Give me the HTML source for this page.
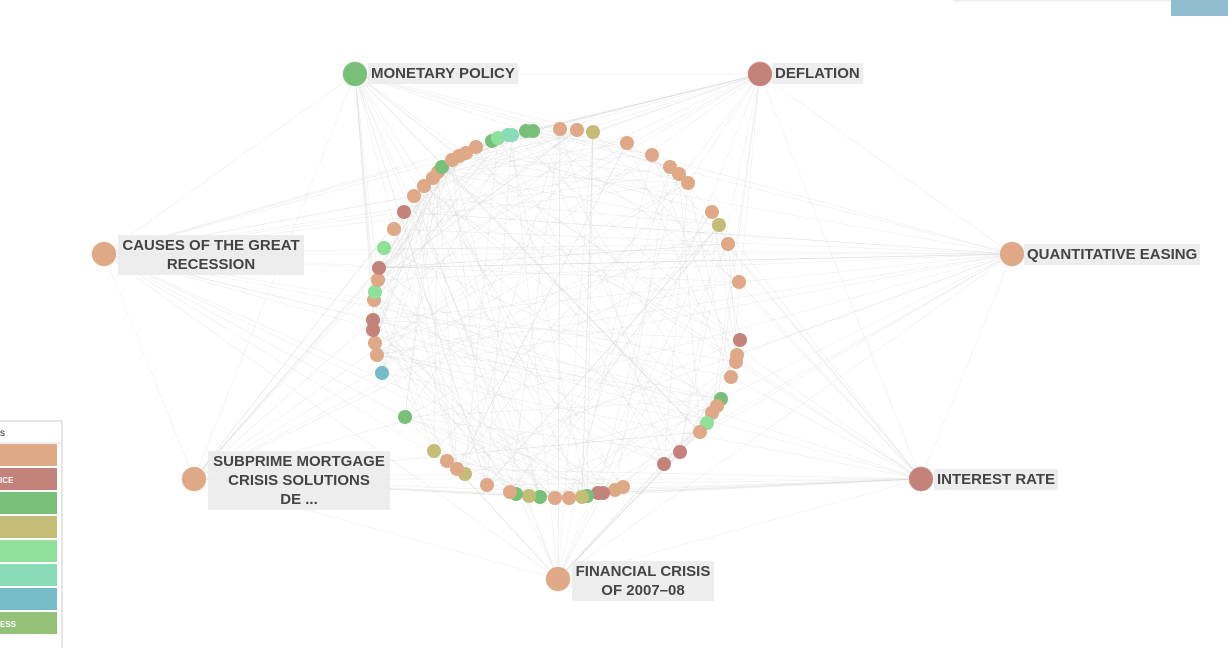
<!DOCTYPE html>
<html><head><meta charset="utf-8"><style>
html,body{margin:0;padding:0;background:#fff;width:1228px;height:648px;overflow:hidden;font-family:"Liberation Sans",sans-serif}
svg{position:absolute;left:0;top:0}
.lbl{position:absolute;background:rgba(235,235,235,0.9);color:#444;font-size:15px;font-weight:bold;line-height:19px;text-align:center;padding:1px 3px;white-space:nowrap}
</style></head><body>
<svg id="s" width="1228" height="648" viewBox="0 0 1228 648">
<rect x="1171" y="0" width="57" height="16" fill="#8fbccf"/>
<rect x="953" y="0" width="218" height="1.5" fill="#eee"/>
<g id="edges" stroke="#d8d8d8" stroke-width="0.6" stroke-opacity="0.45" fill="none"></g>
<g id="nodes"></g>
<rect x="-1" y="421" width="63" height="230" fill="#fff" stroke="#ccc"/>
<line x1="0" y1="443" x2="62" y2="443" stroke="#ddd"/>
<text x="0" y="436" font-size="10" fill="#222" font-family="Liberation Sans">s</text>
<rect x="0" y="444" width="57" height="22" fill="#dfa886"/>
<rect x="0" y="468" width="57" height="22" fill="#c4837a"/>
<text x="0" y="483" font-size="8" font-weight="bold" fill="#fff" font-family="Liberation Sans">ICE</text>
<rect x="0" y="492" width="57" height="22" fill="#78c078"/>
<rect x="0" y="516" width="57" height="22" fill="#c3bd78"/>
<rect x="0" y="540" width="57" height="22" fill="#8ee09a"/>
<rect x="0" y="564" width="57" height="22" fill="#8adbb8"/>
<rect x="0" y="588" width="57" height="22" fill="#76bcc8"/>
<rect x="0" y="612" width="57" height="22" fill="#94c178"/>
<text x="0" y="627" font-size="8" font-weight="bold" fill="#fff" font-family="Liberation Sans">ESS</text>
</svg>
<div class="lbl" style="left:368px;top:63px">MONETARY POLICY</div>
<div class="lbl" style="left:772px;top:63px">DEFLATION</div>
<div class="lbl" style="left:118px;top:235px;width:180px">CAUSES OF THE GREAT<br>RECESSION</div>
<div class="lbl" style="left:1024px;top:244px">QUANTITATIVE EASING</div>
<div class="lbl" style="left:208px;top:451px;width:176px">SUBPRIME MORTGAGE<br>CRISIS SOLUTIONS<br>DE ...</div>
<div class="lbl" style="left:934px;top:469px">INTEREST RATE</div>
<div class="lbl" style="left:572px;top:561px;width:136px">FINANCIAL CRISIS<br>OF 2007–08</div>
<script>
var P="#dfa886",R="#c4837a",G="#78c078",O="#c3bd78",L="#8ee09a",T="#8adbb8",B="#76bcc8";
var small=[[492,141,G],[498,138,L],[508,135,T],[512,135,T],[526,131,G],[533,131,G],[560,129,P],[577,130,P],[593,132,O],[627,143,P],[652,155,P],[670,167,P],[679,174,P],[688,183,P],[712,212,P],[719,225,O],[728,244,P],[739,282,P],[740,340,R],[737,355,P],[736,362,P],[731,377,P],[721,399,G],[717,406,P],[712,413,P],[707,423,L],[700,432,P],[680,452,R],[664,464,R],[623,487,P],[615,490,P],[603,493,R],[598,493,R],[587,496,G],[582,497,O],[569,498,P],[555,498,P],[540,497,G],[529,496,O],[516,494,G],[510,492,P],[487,485,P],[465,474,O],[457,469,P],[447,461,P],[434,451,O],[405,417,G],[382,373,B],[377,355,P],[375,343,P],[373,330,R],[373,320,R],[374,300,P],[375,292,L],[378,280,P],[379,268,R],[384,248,L],[394,229,P],[404,212,R],[414,196,P],[424,186,P],[433,178,P],[438,172,P],[442,167,G],[452,160,P],[459,156,P],[466,153,P],[476,147,P]];
var big=[[355,74,G],[760,74,R],[104,254,P],[1012,254,P],[194,479,P],[921,479,R],[558,579,P]];
var seed=7;function rnd(){seed=(seed*16807)%2147483647;return seed/2147483647;}
var e="",n=small.length;
for(var i=0;i<200;i++){var a=small[Math.floor(rnd()*n)],b=small[Math.floor(rnd()*n)];e+='<line x1="'+a[0]+'" y1="'+a[1]+'" x2="'+b[0]+'" y2="'+b[1]+'"/>';}
big.forEach(function(h){for(var k=0;k<18;k++){var a=small[Math.floor(rnd()*n)];e+='<line x1="'+h[0]+'" y1="'+h[1]+'" x2="'+a[0]+'" y2="'+a[1]+'"/>';}});
for(var i=0;i<big.length;i++)for(var j=i+1;j<big.length;j++){e+='<line x1="'+big[i][0]+'" y1="'+big[i][1]+'" x2="'+big[j][0]+'" y2="'+big[j][1]+'"/>';}
document.getElementById("edges").innerHTML=e;
var c="";small.forEach(function(p){c+='<circle cx="'+p[0]+'" cy="'+p[1]+'" r="7" fill="'+p[2]+'"/>';});
big.forEach(function(p){c+='<circle cx="'+p[0]+'" cy="'+p[1]+'" r="12.5" fill="'+p[2]+'" stroke="#fff" stroke-opacity="0.6" stroke-width="1"/>';});
document.getElementById("nodes").innerHTML=c;
</script>
</body></html>
